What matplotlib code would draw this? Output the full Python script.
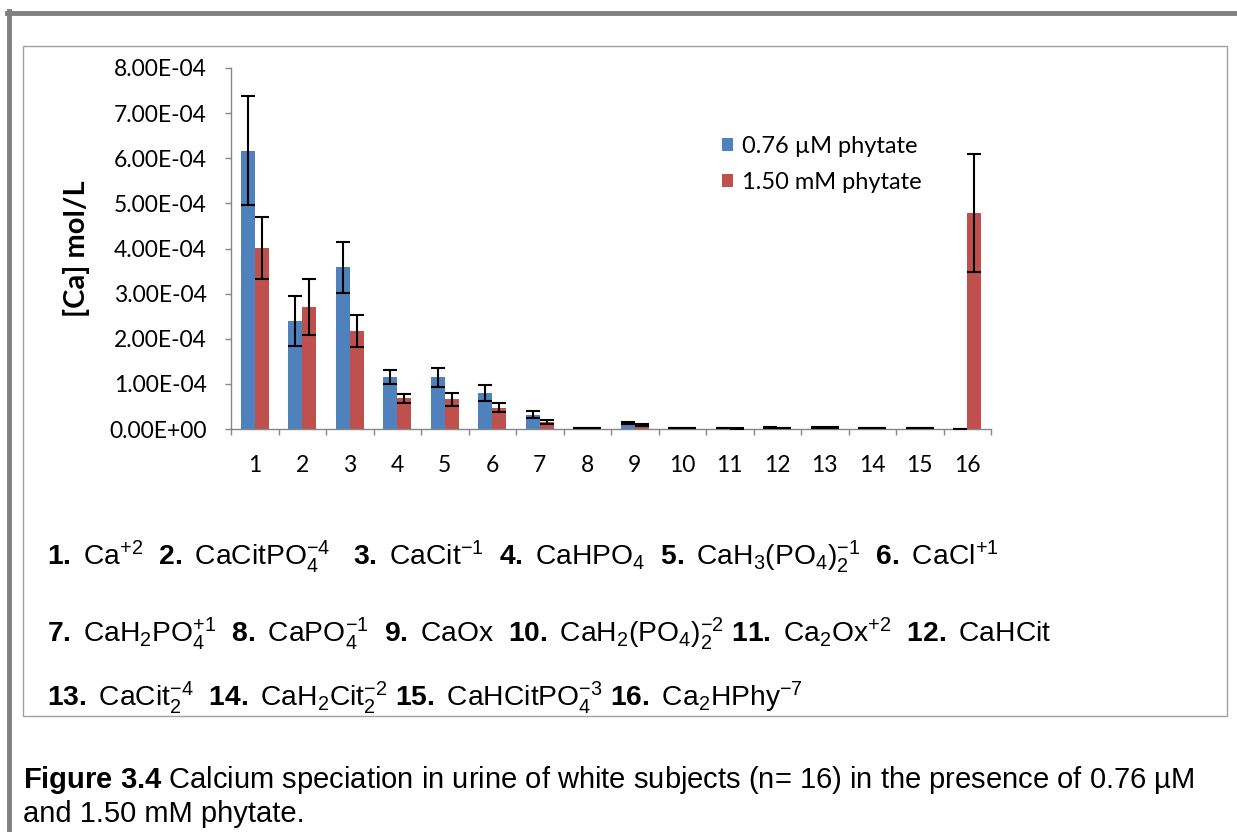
import numpy as np
import matplotlib
matplotlib.use("Agg")
import matplotlib.pyplot as plt
from matplotlib.ticker import FuncFormatter
from matplotlib.patches import Rectangle
from matplotlib.lines import Line2D

# values, units of 1e-4 mol/L
scale = 1e-4
species = [str(i) for i in range(1, 17)]
low_phy = [6.17, 2.39, 3.58, 1.15, 1.15, 0.80, 0.32, 0.02, 0.13, 0.02,
           0.02, 0.03, 0.03, 0.02, 0.02, 0.005]
low_phy_err = [1.20, 0.56, 0.56, 0.16, 0.21, 0.17, 0.08, 0.005, 0.03, 0.005,
               0.005, 0.005, 0.005, 0.005, 0.005, 0.002]
high_phy = [4.01, 2.71, 2.17, 0.68, 0.66, 0.47, 0.16, 0.02, 0.08, 0.02,
            0.01, 0.02, 0.03, 0.02, 0.02, 4.79]
high_phy_err = [0.68, 0.62, 0.36, 0.10, 0.14, 0.10, 0.05, 0.005, 0.02, 0.005,
                0.003, 0.005, 0.005, 0.005, 0.005, 1.31]
series_names = ["0.76 µM phytate", "1.50 mM phytate"]
colors = ["#4F81BD", "#C0504D"]

key_lines = [
    r"$\mathbf{1.}$ Ca$^{+2}$  $\mathbf{2.}$ CaCitPO$_4^{-4}$   $\mathbf{3.}$ CaCit$^{-1}$  "
    r"$\mathbf{4.}$ CaHPO$_4$  $\mathbf{5.}$ CaH$_3$(PO$_4$)$_2^{-1}$  $\mathbf{6.}$ CaCl$^{+1}$",
    r"$\mathbf{7.}$ CaH$_2$PO$_4^{+1}$  $\mathbf{8.}$ CaPO$_4^{-1}$  $\mathbf{9.}$ CaOx  "
    r"$\mathbf{10.}$ CaH$_2$(PO$_4$)$_2^{-2}$ $\mathbf{11.}$ Ca$_2$Ox$^{+2}$  $\mathbf{12.}$ CaHCit",
    r"$\mathbf{13.}$ CaCit$_2^{-4}$  $\mathbf{14.}$ CaH$_2$Cit$_2^{-2}$ $\mathbf{15.}$ CaHCitPO$_4^{-3}$ "
    r"$\mathbf{16.}$ Ca$_2$HPhy$^{-7}$",
]

plt.rcParams["mathtext.fontset"] = "custom"
plt.rcParams["mathtext.rm"] = "Liberation Sans"
plt.rcParams["mathtext.it"] = "Liberation Sans:italic"
plt.rcParams["mathtext.bf"] = "Liberation Sans:bold"

W, H = 1237, 832
fig = plt.figure(figsize=(W / 100, H / 100), dpi=100)
ax = fig.add_axes([231 / W, 1 - 429 / H, 760 / W, 361 / H])

x = np.arange(1, len(species) + 1)
w = 0.295
lo = np.array(low_phy) * scale
hi = np.array(high_phy) * scale
ax.bar(x - w / 2, lo, w, color=colors[0], label=series_names[0], zorder=2)
ax.bar(x + w / 2, hi, w, color=colors[1], label=series_names[1], zorder=2)
err_kw = dict(fmt="none", ecolor="black", elinewidth=1.5, capsize=4.7, capthick=1.5, zorder=3)
ax.errorbar(x - w / 2, lo, yerr=np.array(low_phy_err) * scale, **err_kw)
ax.errorbar(x + w / 2, hi, yerr=np.array(high_phy_err) * scale, **err_kw)

ax.set_xlim(0.5, 16.5)
ax.set_ylim(0, 8e-4)
ax.set_yticks(np.arange(0, 8.01e-4, 1e-4))
ax.yaxis.set_major_formatter(FuncFormatter(lambda v, p: f"{v:.2E}"))
ax.set_xticks(np.arange(0.5, 17, 1))
ax.set_xticklabels([])
ax.set_xticks(x, minor=True)
ax.set_xticklabels(species, minor=True)

grey = "#868686"
for s in ["top", "right"]:
    ax.spines[s].set_visible(False)
for s in ["left", "bottom"]:
    ax.spines[s].set_color(grey)
    ax.spines[s].set_linewidth(1.0)
ax.tick_params(axis="y", which="major", direction="out", length=4.5, width=1.0,
               color=grey, pad=13, labelsize=16.5, labelfontfamily="Lato")
ax.tick_params(axis="x", which="major", direction="out", length=4.5, width=1.0, color=grey)
ax.tick_params(axis="x", which="minor", length=0, pad=19, labelsize=16.5,
               labelfontfamily="Lato")

ax.set_ylabel("[Ca] mol/L", fontsize=21, fontweight="bold", family="Lato")
ax.yaxis.set_label_coords(-0.186, 0.5)

ax.legend(loc="upper left", bbox_to_anchor=(722 / W, 1 - 136 / H),
          bbox_transform=fig.transFigure, frameon=False, borderpad=0,
          borderaxespad=0, handlelength=0.48, handleheight=0.48, handletextpad=0.35,
          labelspacing=0.64, prop={"family": "Lato", "size": 17})

# frame decorations of the original page
fig.add_artist(Line2D([9 / W, 9 / W], [0, 1 - 11 / H], color="#808080", lw=3.5))
fig.add_artist(Line2D([7 / W, 1], [1 - 13 / H, 1 - 13 / H], color="#808080", lw=3.5))
fig.add_artist(Rectangle((23 / W, 1 - 716 / H), (1227 - 23) / W, (716 - 46) / H,
                         fill=False, edgecolor="#a0a0a0", lw=1.0))

for yy, line in zip([557, 634, 698], key_lines):
    fig.text(47 / W, 1 - yy / H, line, fontsize=20.3, family="Liberation Sans", va="center")

fig.text(23 / W, 1 - 780 / H,
         r"$\mathbf{Figure\ 3.4}$ Calcium speciation in urine of white subjects (n= 16) in the presence of 0.76 µM",
         fontsize=21, family="Liberation Sans", va="center")
fig.text(23 / W, 1 - 814 / H, "and 1.50 mM phytate.", fontsize=21,
         family="Liberation Sans", va="center")

fig.savefig("out.png", dpi=100)
